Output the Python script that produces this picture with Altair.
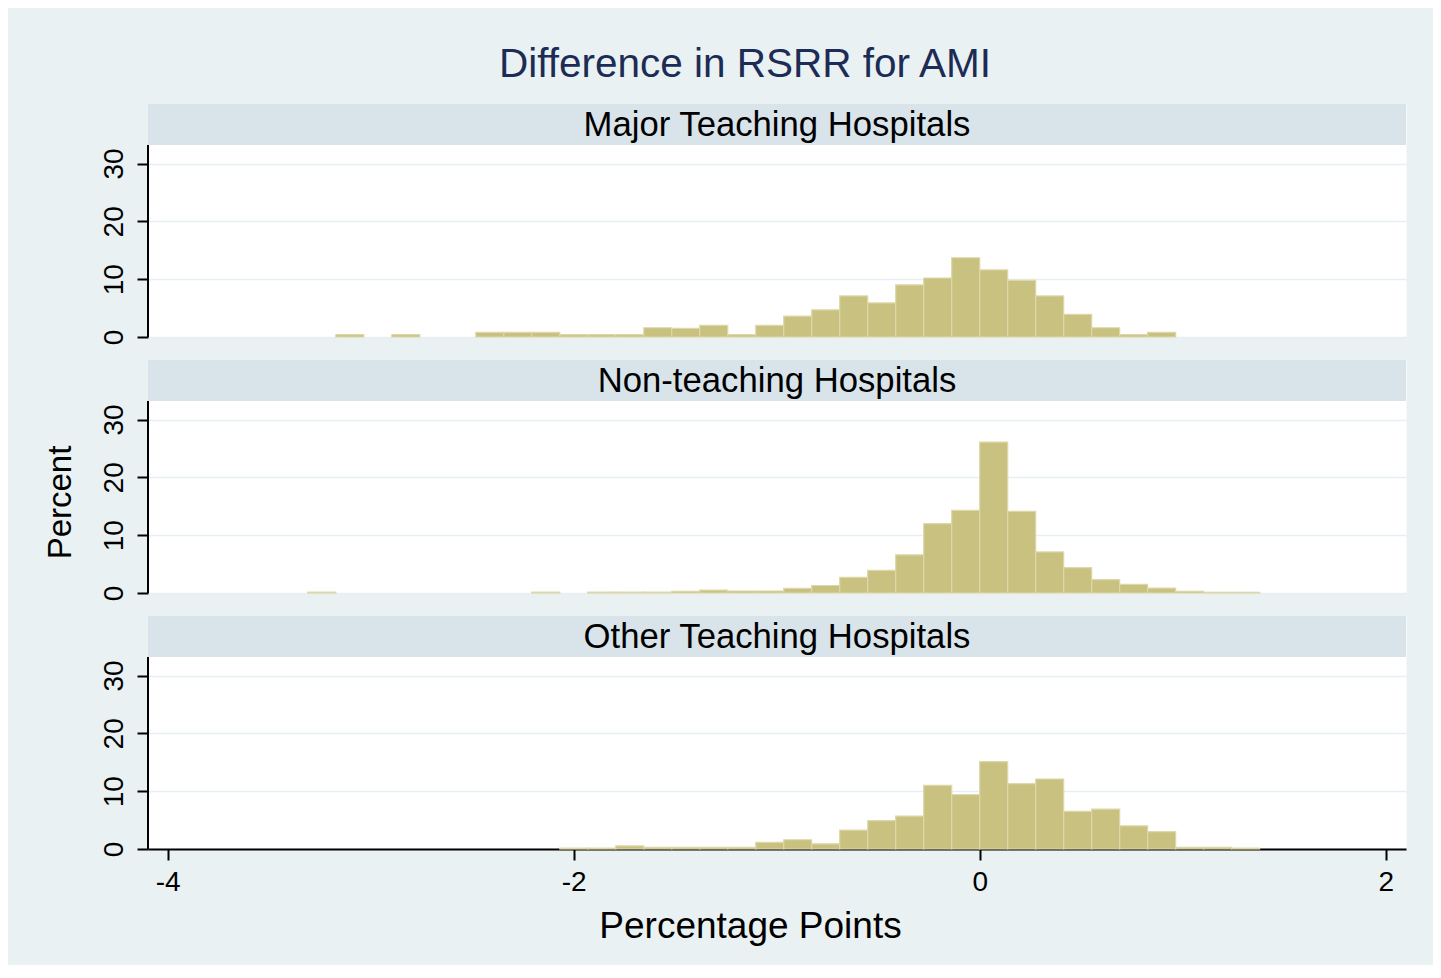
import altair as alt
import pandas as pd

# ---------------- data ----------------
BIN_WIDTH = 0.1379
bin_index = list(range(-24, 10))  # bin k covers [k*w, (k+1)*w]

panel_names = ["Major Teaching Hospitals", "Non-teaching Hospitals", "Other Teaching Hospitals"]

major_pct = [0, 0.4, 0, 0.4, 0, 0, 0.8, 0.8, 0.8, 0.4, 0.4, 0.4,
             1.6, 1.5, 2.0, 0.4, 2.0, 3.6, 4.7, 7.1, 5.9, 9.0, 10.2, 13.7,
             11.6, 9.8, 7.1, 3.9, 1.6, 0.4, 0.8, 0, 0, 0]
nonteach_pct = [0.15, 0, 0, 0, 0, 0, 0, 0, 0.15, 0, 0.15, 0.15,
                0.15, 0.3, 0.5, 0.35, 0.35, 0.8, 1.3, 2.7, 3.9, 6.6, 12.0, 14.3,
                26.1, 14.1, 7.1, 4.4, 2.3, 1.5, 0.85, 0.3, 0.12, 0.12]
other_pct = [0, 0, 0, 0, 0, 0, 0, 0, 0, 0.15, 0.15, 0.55,
             0.3, 0.3, 0.3, 0.3, 1.15, 1.6, 0.9, 3.25, 4.9, 5.7, 11.0, 9.4,
             15.1, 11.3, 12.1, 6.5, 6.9, 4.0, 3.0, 0.3, 0.3, 0.15]

x_ticks = [-4, -2, 0, 2]
y_ticks = [0, 10, 20, 30]
X_DOMAIN = [-4.097, 2.10]
Y_TOP = 33.2

# ---------------- style ----------------
W, H = 1258, 233
STRIP_PX = 41
Y_MAX = Y_TOP * H / (H - STRIP_PX)
FONT = "Liberation Sans"
BG = "#EAF1F3"
STRIP = "#D9E4EA"
GRID = "#E6EFF2"
BAR = "#C9C180"
EDGE = "#DDD7AA"
HYPHEN_LABEL = "(datum.value < 0 ? '-' : '') + abs(datum.value)"


def panel(name, pcts, bottom=False, ytitle=False):
    df = pd.DataFrame({
        "x0": [k * BIN_WIDTH for k in bin_index],
        "x1": [(k + 1) * BIN_WIDTH for k in bin_index],
        "pct": pcts,
    })
    df = df[df["pct"] > 0].assign(base=0.0)

    xscale = alt.Scale(domain=X_DOMAIN, nice=False, zero=False)
    yscale = alt.Scale(domain=[0, Y_MAX], nice=False)

    if bottom:
        xaxis = alt.Axis(values=x_ticks, grid=False, domain=True, domainColor="black",
                         domainWidth=2, ticks=True, tickSize=11, tickWidth=2, tickColor="black",
                         labelFontSize=28, labelPadding=8, labelColor="black", labelFont=FONT,
                         labelExpr=HYPHEN_LABEL,
                         title="Percentage Points", titleFontSize=37, titleFont=FONT,
                         titleFontWeight="normal", titleColor="black",
                         titleX=602, titleY=88, titleAlign="center", titleBaseline="alphabetic")
    else:
        xaxis = None

    yaxis_kw = dict(values=y_ticks, grid=True, gridColor=GRID, gridWidth=1.5,
                    domain=False, ticks=True, tickSize=11, tickWidth=2, tickColor="black",
                    labelAngle=270, labelAlign="center", labelBaseline="alphabetic",
                    labelPadding=15, labelFontSize=28, labelColor="black", labelFont=FONT)
    if ytitle:
        yaxis = alt.Axis(title="Percent", titleFontSize=33, titleFont=FONT,
                         titleFontWeight="normal", titleColor="black", titleAngle=270,
                         titleX=-88, titleY=142, titleAlign="center", titleBaseline="middle",
                         **yaxis_kw)
    else:
        yaxis = alt.Axis(title=None, **yaxis_kw)

    bars = alt.Chart(df).mark_rect(fill=BAR, stroke=EDGE, strokeWidth=1.2).encode(
        x=alt.X("x0:Q", scale=xscale, axis=xaxis),
        x2="x1:Q",
        y=alt.Y("pct:Q", scale=yscale, axis=yaxis),
        y2="base:Q",
    )
    strip = alt.Chart(pd.DataFrame({"name": [name]})).mark_rect(color=STRIP).encode(
        x=alt.value(0), x2=alt.value(W), y=alt.value(0), y2=alt.value(STRIP_PX)
    )
    label = alt.Chart(pd.DataFrame({"name": [name]})).mark_text(
        font=FONT, fontSize=34.7, color="black", baseline="middle", align="center"
    ).encode(x=alt.value(W / 2), y=alt.value(STRIP_PX / 2 + 1), text="name:N")
    yline = alt.Chart(pd.DataFrame({"name": [name]})).mark_rule(color="black", strokeWidth=2).encode(
        x=alt.value(0), y=alt.value(STRIP_PX), y2=alt.value(H)
    )
    return alt.layer(bars, strip, label, yline).properties(width=W, height=H)


p1 = panel(panel_names[0], major_pct)
p2 = panel(panel_names[1], nonteach_pct, ytitle=True)
p3 = panel(panel_names[2], other_pct, bottom=True)

chart = alt.vconcat(p1, p2, p3, spacing=23, bounds="flush").properties(
    title=alt.TitleParams("Difference in RSRR for AMI", fontSize=40.5, font=FONT,
                          fontWeight="normal", color="#1C2C55", anchor="middle",
                          offset=18, dx=20),
    background=BG,
    padding={"left": 35, "top": 37, "right": 26, "bottom": 20},
).configure_view(fill="white", stroke="transparent")

chart.save("out.html", embed_options={"renderer": "svg", "actions": False})
